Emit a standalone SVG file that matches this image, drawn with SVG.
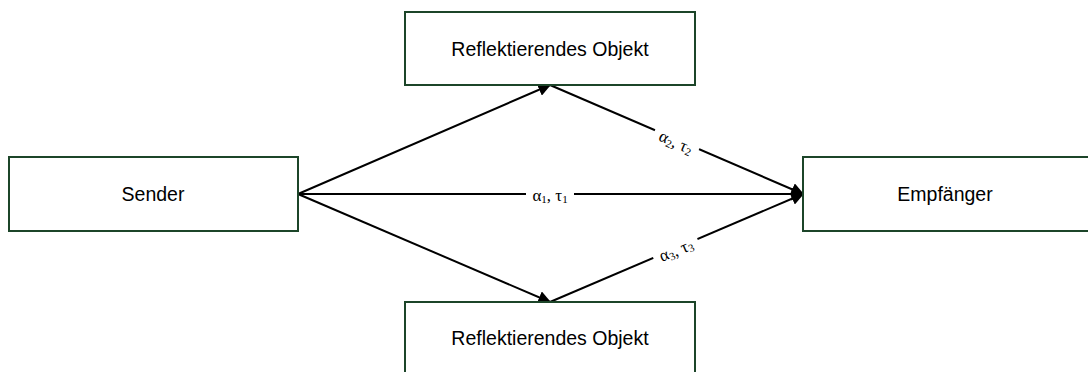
<svg xmlns="http://www.w3.org/2000/svg" width="1088" height="372" viewBox="0 0 1088 372">
  <style>
    .box { fill: #ffffff; stroke: #1c4529; stroke-width: 2; }
    .lbl { font-family: "Liberation Sans", Arial, sans-serif; font-size: 19.5px; fill: #000; text-anchor: middle; dominant-baseline: central; }
    .edge { stroke: #000; stroke-width: 2; fill: none; marker-end: url(#arrow); }
    .elbl { font-family: "Liberation Serif", "Times New Roman", serif; font-size: 17px; fill: #000; text-anchor: middle; dominant-baseline: central; }
    .sub { font-size: 11px; }
    .bg { fill: #ffffff; }
  </style>
  <defs>
    <marker id="arrow" viewBox="0 0 10 10" refX="9" refY="5" markerWidth="13" markerHeight="13" orient="auto" markerUnits="userSpaceOnUse">
      <path d="M0,0 L10,5 L0,10 z" fill="#000"/>
    </marker>
  </defs>
  <rect width="1088" height="372" fill="#ffffff"/>

  <g id="connectors">
    <line class="edge" x1="298" y1="194" x2="550" y2="85"/>
    <line class="edge" x1="550" y1="85" x2="803" y2="194"/>
    <line class="edge" x1="298" y1="194" x2="803" y2="194"/>
    <line class="edge" x1="298" y1="194" x2="550" y2="302"/>
    <line class="edge" x1="550" y1="302" x2="803" y2="194"/>
    <g transform="translate(676,142) rotate(23.3)">
      <rect class="bg" x="-24" y="-9" width="48" height="18"/>
      <text class="elbl" x="0" y="0">α<tspan class="sub" dy="4">2</tspan><tspan dy="-4">, τ</tspan><tspan class="sub" dy="4">2</tspan></text>
    </g>
    <g transform="translate(550,195)">
      <rect class="bg" x="-24" y="-9" width="48" height="18"/>
      <text class="elbl" x="0" y="0">α<tspan class="sub" dy="4">1</tspan><tspan dy="-4">, τ</tspan><tspan class="sub" dy="4">1</tspan></text>
    </g>
    <g transform="translate(676,250) rotate(-23.2)">
      <rect class="bg" x="-24" y="-9" width="48" height="18"/>
      <text class="elbl" x="0" y="0">α<tspan class="sub" dy="4">3</tspan><tspan dy="-4">, τ</tspan><tspan class="sub" dy="4">3</tspan></text>
    </g>
  </g>

  <g id="sender">
    <rect class="box" x="9" y="157" width="289" height="74"/>
    <text class="lbl" x="153" y="194">Sender</text>
  </g>
  <g id="reflector-top">
    <rect class="box" x="405" y="12" width="290" height="73"/>
    <text class="lbl" x="550" y="49">Reflektierendes Objekt</text>
  </g>
  <g id="reflector-bottom">
    <rect class="box" x="405" y="302" width="290" height="74"/>
    <text class="lbl" x="550" y="338">Reflektierendes Objekt</text>
  </g>
  <g id="receiver">
    <rect class="box" x="803" y="157" width="290" height="74"/>
    <text class="lbl" x="945" y="194">Empfänger</text>
  </g>
</svg>
